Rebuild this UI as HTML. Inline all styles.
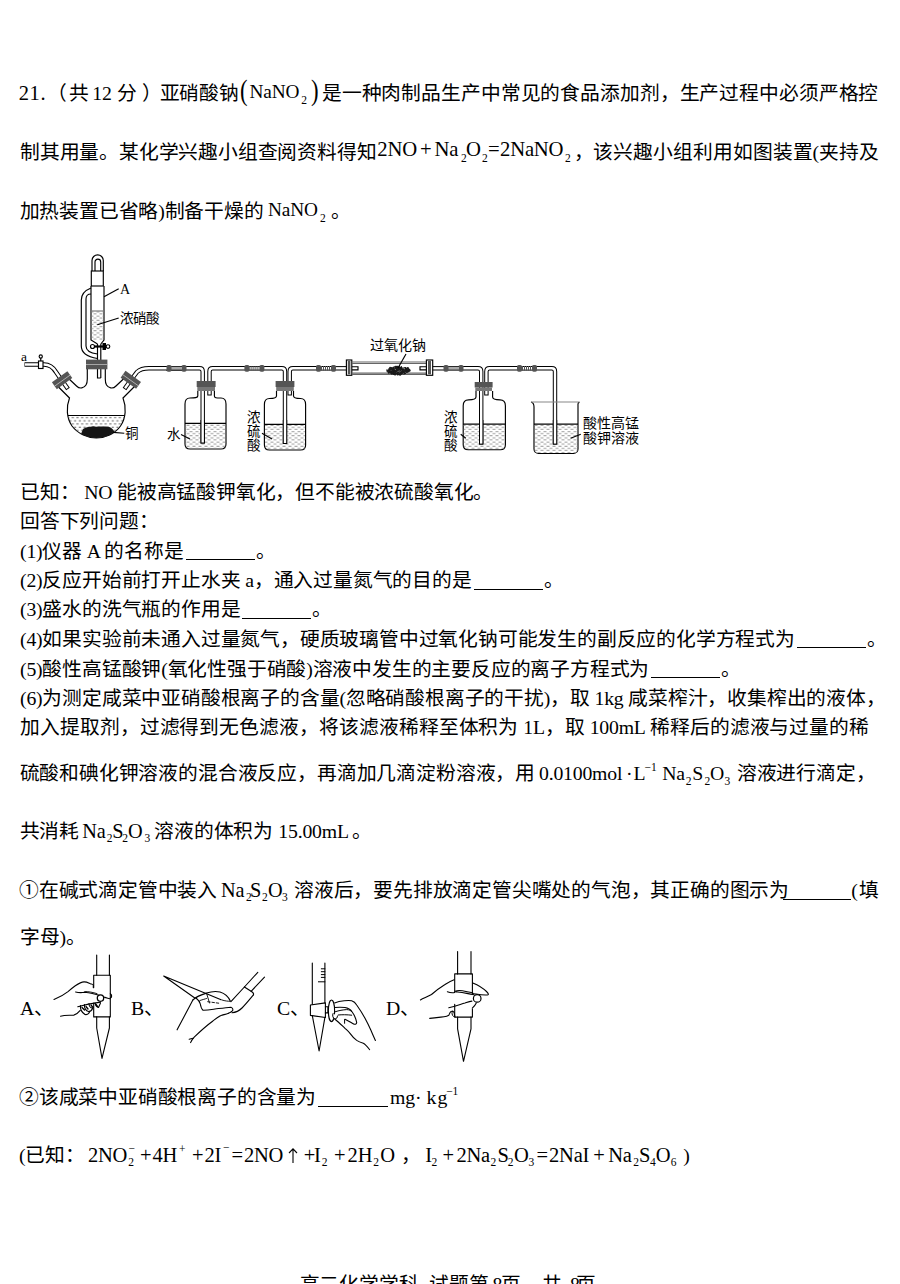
<!DOCTYPE html>
<html lang="zh-CN">
<head>
<meta charset="utf-8">
<style>
html,body{margin:0;padding:0;background:#fff;}
body{width:900px;height:1284px;overflow:hidden;position:relative;font-family:"Liberation Serif",serif;color:#000;}
.l{position:absolute;left:20px;white-space:nowrap;font-size:19.75px;line-height:20px;letter-spacing:-0.2px;}
.j{width:859px;text-align:justify;text-align-last:justify;}
.r{position:absolute;white-space:nowrap;line-height:20px;display:block;}
sub,sup{font-size:11px;line-height:0;}
sub{vertical-align:-5px;}
sup{vertical-align:8px;}
.f{font-size:20.5px;}
.op{padding:0 3px;}
.bp{display:inline-block;font-size:26px;transform:scaleX(0.85);}
.dot{padding:0 2px;}
sub.lo{vertical-align:-7px;}
sub.ss{position:relative;}
sub.ss span{position:absolute;left:0;top:-14px;}
.ar{font-family:"Liberation Serif",serif;}
.u{display:inline-block;width:69px;border-bottom:1px solid #000;height:16px;margin-left:2px;margin-right:1px;vertical-align:-2.5px;}
#fig{position:absolute;left:0;top:240px;}
#fig2{position:absolute;left:0;top:945px;}
</style>
</head>
<body>
<!--FORM-->
<div class="l" id="L1" style="top:83.3px"><span id="L1_a" class="r" style="left:-1.30px;top:-0.25px;font-size:20.50px;letter-spacing:0.6px">21.</span><span id="L1_b" class="r" style="left:27.00px;top:0.00px;font-size:19.75px">（</span><span id="L1_b2" class="r" style="left:49.00px;top:0.00px;font-size:19.75px">共</span><span id="L1_c" class="r" style="left:72.30px;top:0.00px;font-size:19.75px">12</span><span id="L1_d" class="r" style="left:97.30px;top:0.00px;font-size:19.75px">分</span><span id="L1_d2" class="r" style="left:122.30px;top:0.00px;font-size:19.75px">）</span><span id="L1_e" class="r" style="left:139.60px;top:0.00px;font-size:19.75px">亚硝酸钠</span><span id="L1_f" class="r" style="left:220.00px;top:-1.95px;font-size:28.50px;transform:scaleX(0.8);transform-origin:left">(</span><span id="L1_g" class="r" style="left:229.60px;top:-0.84px;font-size:19.30px">NaNO</span><span id="L1_h" class="r" style="left:281.20px;top:6.79px;font-size:11.50px">2</span><span id="L1_i" class="r" style="left:290.70px;top:-1.95px;font-size:28.50px;transform:scaleX(0.8);transform-origin:left">)</span><span id="L1_j" class="r" style="left:301.80px;top:0.00px;font-size:19.75px;width:556.50px;text-align:justify;text-align-last:justify">是一种肉制品生产中常见的食品添加剂，生产过程中必须严格控</span></div>
<div class="l" id="L2" style="top:142.0px"><span id="L2_a" class="r" style="left:0.10px;top:0.00px;font-size:19.75px">制其用量。某化学兴趣小组查阅资料得知</span><span id="L2_b" class="r" style="left:357.30px;top:-2.62px;font-size:20.70px">2NO</span><span id="L2_c" class="r" style="left:400.00px;top:-2.62px;font-size:20.70px">+</span><span id="L2_d" class="r" style="left:414.60px;top:-2.62px;font-size:20.70px">Na</span><span id="L2_e" class="r" style="left:441.00px;top:6.19px;font-size:11.50px">2</span><span id="L2_f" class="r" style="left:446.00px;top:-2.62px;font-size:20.70px">O</span><span id="L2_g" class="r" style="left:462.00px;top:6.19px;font-size:11.50px">2</span><span id="L2_h" class="r" style="left:468.00px;top:-2.62px;font-size:20.70px">=</span><span id="L2_i" class="r" style="left:480.00px;top:-2.62px;font-size:20.70px">2NaNO</span><span id="L2_k" class="r" style="left:545.00px;top:6.19px;font-size:11.50px">2</span><span id="L2_l" class="r" style="left:554.00px;top:0.00px;font-size:19.75px">，</span><span id="L2_m" class="r" style="left:573.30px;top:0.00px;font-size:19.75px;width:285.50px;text-align:justify;text-align-last:justify">该兴趣小组利用如图装置(夹持及</span></div>
<div class="l" id="L3" style="top:200.8px"><span id="L3_a" class="r" style="left:-0.40px;top:0.00px;font-size:19.75px">加热装置已省略)制备干燥的</span><span id="L3_b" class="r" style="left:248.10px;top:-0.34px;font-size:19.30px">NaNO</span><span id="L3_c" class="r" style="left:300.00px;top:6.89px;font-size:11.50px">2</span><span id="L3_d" class="r" style="left:311.00px;top:0.00px;font-size:19.75px">。</span></div>
<div class="l" id="L4" style="top:762.5px"><span id="L4_a" class="r" style="left:-0.50px;top:0.00px;font-size:19.75px;width:515.50px;text-align:justify;text-align-last:justify">硫酸和碘化钾溶液的混合液反应，再滴加几滴淀粉溶液，用</span><span id="L4_b" class="r" style="left:519.00px;top:0.00px;font-size:19.75px">0.0100mol</span><span id="L4_c" class="r" style="left:606.00px;top:0.00px;font-size:19.75px">·</span><span id="L4_d" class="r" style="left:613.40px;top:0.00px;font-size:19.75px">L</span><span id="L4_e" class="r" style="left:624.60px;top:-5.21px;font-size:11.50px">−1</span><span id="L4_f" class="r" style="left:642.30px;top:0.00px;font-size:19.75px">Na</span><span id="L4_g" class="r" style="left:665.70px;top:8.29px;font-size:11.50px">2</span><span id="L4_h" class="r" style="left:672.30px;top:0.00px;font-size:19.75px">S</span><span id="L4_i" class="r" style="left:684.60px;top:8.29px;font-size:11.50px">2</span><span id="L4_k" class="r" style="left:690.00px;top:0.00px;font-size:19.75px">O</span><span id="L4_l" class="r" style="left:704.60px;top:8.29px;font-size:11.50px">3</span><span id="L4_m" class="r" style="left:716.80px;top:0.00px;font-size:19.75px;width:132.00px;text-align:justify;text-align-last:justify">溶液进行滴定，</span></div>
<div class="l" id="L5" style="top:821.1px"><span id="L5_a" class="r" style="left:-0.50px;top:0.00px;font-size:19.75px">共消耗</span><span id="L5_b" class="r" style="left:62.30px;top:-0.18px;font-size:20.30px">Na</span><span id="L5_c" class="r" style="left:86.80px;top:7.19px;font-size:11.50px">2</span><span id="L5_d" class="r" style="left:92.30px;top:-0.18px;font-size:20.30px">S</span><span id="L5_e" class="r" style="left:102.30px;top:7.19px;font-size:11.50px">2</span><span id="L5_f" class="r" style="left:107.90px;top:-0.18px;font-size:20.30px">O</span><span id="L5_g" class="r" style="left:124.60px;top:7.19px;font-size:11.50px">3</span><span id="L5_h" class="r" style="left:134.30px;top:0.00px;font-size:19.75px">溶液的体积为</span><span id="L5_i" class="r" style="left:258.30px;top:0.00px;font-size:19.75px">15.00mL</span><span id="L5_k" class="r" style="left:332.40px;top:0.00px;font-size:19.75px">。</span></div>
<div class="l" id="L6" style="top:879.9px"><span id="L6_a" class="r" style="left:-1.00px;top:0.00px;font-size:19.75px">①在碱式滴定管中装入</span><span id="L6_b" class="r" style="left:201.00px;top:-0.18px;font-size:20.30px">Na</span><span id="L6_c" class="r" style="left:226.00px;top:7.19px;font-size:11.50px">2</span><span id="L6_d" class="r" style="left:230.00px;top:-0.18px;font-size:20.30px">S</span><span id="L6_e" class="r" style="left:242.00px;top:7.19px;font-size:11.50px">2</span><span id="L6_f" class="r" style="left:248.00px;top:-0.18px;font-size:20.30px">O</span><span id="L6_g" class="r" style="left:262.00px;top:7.19px;font-size:11.50px">3</span><span id="L6_h" class="r" style="left:274.00px;top:0.00px;font-size:19.75px;width:486.00px;text-align:justify;text-align-last:justify">溶液后，要先排放滴定管尖嘴处的气泡，其正确的图示为</span><span id="L6_u" class="r" style="left:763.30px;top:0.00px;font-size:19.75px;width:68.00px;height:1.00px;border-bottom:1px solid #000;top:18.17px"></span><span id="L6_k" class="r" style="left:831.20px;top:0.00px;font-size:19.75px">(</span><span id="L6_l" class="r" style="left:839.00px;top:0.00px;font-size:19.75px">填</span></div>
<div class="l" id="L7" style="top:1086.5px"><span id="L7_a" class="r" style="left:-1.00px;top:0.00px;font-size:19.75px">②该咸菜中亚硝酸根离子的含量为</span><span id="L7_u" class="r" style="left:298.20px;top:0.00px;font-size:19.75px;width:69.60px;height:1.00px;border-bottom:1px solid #000;top:18.17px"></span><span id="L7_b" class="r" style="left:370.10px;top:0.00px;font-size:19.75px">mg</span><span id="L7_c" class="r" style="left:395.00px;top:0.00px;font-size:19.75px">·</span><span id="L7_d" class="r" style="left:406.60px;top:0.00px;font-size:19.75px;letter-spacing:1px">kg</span><span id="L7_e" class="r" style="left:426.20px;top:-5.71px;font-size:11.50px">−1</span></div>
<div class="l" id="L8" style="top:1145.3px"><span id="L8_a" class="r" style="left:-1.00px;top:0.00px;font-size:19.75px">(已知：</span><span id="L8_b" class="r" style="left:67.90px;top:-0.25px;font-size:20.50px">2NO</span><span id="L8_c" class="r" style="left:108.30px;top:7.19px;font-size:11.50px">2</span><span id="L8_c2" class="r" style="left:108.50px;top:-7.71px;font-size:11.50px">−</span><span id="L8_d" class="r" style="left:120.00px;top:-0.25px;font-size:20.50px">+</span><span id="L8_e" class="r" style="left:132.40px;top:-0.25px;font-size:20.50px">4H</span><span id="L8_f" class="r" style="left:158.90px;top:-6.21px;font-size:11.50px">+</span><span id="L8_g" class="r" style="left:172.10px;top:-0.25px;font-size:20.50px">+</span><span id="L8_h" class="r" style="left:184.50px;top:-0.25px;font-size:20.50px">2I</span><span id="L8_i" class="r" style="left:202.90px;top:-8.71px;font-size:11.50px">−</span><span id="L8_k" class="r" style="left:211.40px;top:-0.25px;font-size:20.50px">=</span><span id="L8_l" class="r" style="left:223.90px;top:-0.25px;font-size:20.50px">2NO</span><span id="L8_m" class="r" style="left:268.20px;top:-0.25px;font-size:20.50px"><svg width="10" height="15" viewBox="0 0 10 15" style="display:block;margin-top:3px"><path d="M5 1V15M1 5L5 0.8L9 5" fill="none" stroke="#000" stroke-width="1.1"/></svg></span><span id="L8_n" class="r" style="left:283.80px;top:-0.25px;font-size:20.50px">+</span><span id="L8_o" class="r" style="left:293.90px;top:-0.25px;font-size:20.50px">I</span><span id="L8_p" class="r" style="left:301.80px;top:7.19px;font-size:11.50px">2</span><span id="L8_q" class="r" style="left:314.10px;top:-0.25px;font-size:20.50px">+</span><span id="L8_r" class="r" style="left:327.60px;top:-0.25px;font-size:20.50px">2H</span><span id="L8_s" class="r" style="left:353.20px;top:7.19px;font-size:11.50px">2</span><span id="L8_t" class="r" style="left:360.20px;top:-0.25px;font-size:20.50px">O</span><span id="L8_v" class="r" style="left:381.00px;top:0.00px;font-size:19.75px">，</span><span id="L8_w" class="r" style="left:405.30px;top:-0.25px;font-size:20.50px">I</span><span id="L8_x" class="r" style="left:411.60px;top:7.19px;font-size:11.50px">2</span><span id="L8_y" class="r" style="left:422.40px;top:-0.25px;font-size:20.50px">+</span><span id="L8_z" class="r" style="left:436.40px;top:-0.25px;font-size:20.50px">2Na</span><span id="L8_A" class="r" style="left:470.50px;top:7.19px;font-size:11.50px">2</span><span id="L8_B" class="r" style="left:477.50px;top:-0.25px;font-size:20.50px">S</span><span id="L8_C" class="r" style="left:487.80px;top:7.19px;font-size:11.50px">2</span><span id="L8_D" class="r" style="left:493.90px;top:-0.25px;font-size:20.50px">O</span><span id="L8_E" class="r" style="left:508.60px;top:7.19px;font-size:11.50px">3</span><span id="L8_F" class="r" style="left:516.40px;top:-0.25px;font-size:20.50px">=</span><span id="L8_G" class="r" style="left:529.00px;top:-0.25px;font-size:20.50px">2NaI</span><span id="L8_H" class="r" style="left:573.20px;top:-0.25px;font-size:20.50px">+</span><span id="L8_I" class="r" style="left:588.20px;top:-0.25px;font-size:20.50px">Na</span><span id="L8_K" class="r" style="left:613.20px;top:7.19px;font-size:11.50px">2</span><span id="L8_L" class="r" style="left:619.00px;top:-0.25px;font-size:20.50px">S</span><span id="L8_M" class="r" style="left:630.00px;top:7.19px;font-size:11.50px">4</span><span id="L8_N" class="r" style="left:635.70px;top:-0.25px;font-size:20.50px">O</span><span id="L8_O" class="r" style="left:650.70px;top:7.19px;font-size:11.50px">6</span><span id="L8_P" class="r" style="left:663.20px;top:0.00px;font-size:19.75px">)</span></div>
<div class="l" id="L9" style="top:1273.8px"><span id="L9_a" class="r" style="left:279.70px;top:0.00px;font-size:19.75px">高二化学学科</span><span id="L9_b" class="r" style="left:409.40px;top:0.00px;font-size:19.75px">试题第</span><span id="L9_c" class="r" style="left:472.40px;top:0.00px;font-size:19.75px">8</span><span id="L9_d" class="r" style="left:480.60px;top:0.00px;font-size:19.75px">页，</span><span id="L9_e" class="r" style="left:522.00px;top:0.00px;font-size:19.75px">共</span><span id="L9_f" class="r" style="left:550.00px;top:0.00px;font-size:19.75px">8</span><span id="L9_g" class="r" style="left:555.50px;top:0.00px;font-size:19.75px">页</span></div>
<!--/FORM-->

<div class="l" style="top:482.0px">已知： NO 能被高锰酸钾氧化，但不能被浓硫酸氧化。</div>
<div class="l" style="top:511.0px">回答下列问题：</div>
<div class="l" style="top:540.6px">(1)仪器 A 的名称是<span class="u"></span>。</div>
<div class="l" style="top:570.3px">(2)反应开始前打开止水夹 a，通入过量氮气的目的是<span class="u"></span>。</div>
<div class="l" style="top:599.1px">(3)盛水的洗气瓶的作用是<span class="u"></span>。</div>
<div class="l" style="top:628.8px">(4)如果实验前未通入过量氮气，硬质玻璃管中过氧化钠可能发生的副反应的化学方程式为<span class="u"></span>。</div>
<div class="l" style="top:658.6px">(5)酸性高锰酸钾(氧化性强于硝酸)溶液中发生的主要反应的离子方程式为<span class="u"></span>。</div>
<div class="l j" style="top:687.8px">(6)为测定咸菜中亚硝酸根离子的含量(忽略硝酸根离子的干扰)，取 1kg 咸菜榨汁，收集榨出的液体，</div>
<div class="l j" style="top:717.1px;width:849px">加入提取剂，过滤得到无色滤液，将该滤液稀释至体积为 1L，取 100mL 稀释后的滤液与过量的稀</div>
<div class="l" style="top:926.6px">字母)。</div>
<div class="l" style="top:998.3px;left:20px">A、</div>
<div class="l" style="top:998.3px;left:131px">B、</div>
<div class="l" style="top:998.3px;left:277px">C、</div>
<div class="l" style="top:998.3px;left:386px">D、</div>

<svg id="fig" width="900" height="480" viewBox="0 0 900 480" style="position:absolute;left:0;top:0" fill="none" stroke="#000" stroke-width="1.15">
<defs>
<pattern id="liq" width="6" height="4.2" patternUnits="userSpaceOnUse">
<path d="M0.5 1h3M3.5 3.1h3M-2.5 3.1h3" stroke="#8a8a8a" stroke-width="0.85"/>
</pattern>
<pattern id="liq2" width="4.7" height="6.4" patternUnits="userSpaceOnUse"><path d="M1.2 1.6h2.2M3.55 4.8h2.2M-1.15 4.8h2.2" stroke="#555" stroke-width="1"/></pattern>
<g id="conn">
<path d="M4 0H16" stroke="#000" stroke-width="4.6"/>
<path d="M4 0H16" stroke="#fff" stroke-width="2.6"/>
<path d="M5 0H15" stroke="#555" stroke-width="4.4" stroke-dasharray="1 1"/>
<rect x="0" y="-3.4" width="5" height="6.8" rx="1.6" fill="#555" stroke="none"/>
<rect x="15" y="-3.4" width="5" height="6.8" rx="1.6" fill="#555" stroke="none"/>
</g>
</defs>
<!-- ===== dropping funnel ===== -->
<path d="M92 271V260.5a5.65 5.65 0 0 1 11.3 0V271" />
<path d="M95 271V262a2.85 2.85 0 0 1 5.7 0V271" />
<rect x="91.3" y="271" width="12" height="15" />
<path d="M91 286 V340 L97.5 344 M104 286 V340 L100.8 344" />
<path d="M91 288 C86 290 81.3 293 81.3 300 V346 C81.3 353 88 357 97.5 358.5" />
<path d="M91 294 C88 294 86 296 86 299 V346 C86 350 90 353 97.5 354" />
<rect x="91.6" y="311" width="11.8" height="29" fill="url(#liq)" stroke="none"/>
<path d="M91 311 H104" stroke="#777"/>
<path d="M94 346.5 H106" stroke-width="2.2"/>
<circle cx="92.5" cy="346.5" r="2" fill="#fff"/>
<rect x="102.5" y="343" width="3.5" height="7" fill="#000" stroke="none"/>
<circle cx="108" cy="346.5" r="1.8" fill="#fff"/>
<path d="M97.5 344 V360 M100.8 344 V378 M97.5 360 V378 H100.8" />
<path d="M104 296.7 L118.7 288.7" />
<path d="M97.3 324.7 L118.7 318" />
<!-- ===== three-neck flask ===== -->
<!-- outline: left neck outer -> bulb -> right neck outer -->
<path d="M56.5 385 L69.5 398 C66 407 66.5 418 72 426 C78 434 88 438 96.3 438 C105 438 115 434 120.5 426 C126 418 126.5 407 123 398 L136 385" />
<!-- inner walls: left neck inner -> shoulder -> center neck -->
<path d="M67 377 L76.5 386 C80 389.5 84 388 86 385 C87 383.5 87.3 381 87.3 379 V369" />
<path d="M125.5 377 L116 386 C112.5 389.5 108.5 388 106.5 385 C105.5 383.5 105.3 381 105.3 379 V369" />
<clipPath id="bulbc"><path d="M69.5 398 C66 407 66.5 418 72 426 C78 434 88 438 96.3 438 C105 438 115 434 120.5 426 C126 418 126.5 407 123 398Z"/></clipPath>
<rect x="66" y="416" width="62" height="24" fill="url(#liq2)" stroke="none" clip-path="url(#bulbc)"/>
<path d="M68 415.5 H124.5" />
<path d="M81 434 L83 429 C86 426.8 90 427.2 93 426.3 C97 427.2 100 425.9 104 426.6 C108 426.1 111 427 113 429.5 L116 434 L116 441 L81 441 Z" fill="#151515" stroke="none" clip-path="url(#bulbc)"/>

<path d="M113 432.4 L124.3 433.3" />
<rect x="86" y="359.6" width="21.4" height="9.7" fill="#555" stroke="none"/>
<path d="M86 364.5 H107.4" stroke="#bbb" stroke-width="0.8"/>
<!-- side tubes (black+white stroke trick) -->
<path d="M61.5 380 L56 372 Q51.5 364.5 44 364.5 H24.5" stroke="#000" stroke-width="4.4"/>
<path d="M61.5 380 L56 372 Q51.5 364.5 44 364.5 H25" stroke="#fff" stroke-width="2.4"/>
<path d="M62 380.5 L68 389" stroke="#000" stroke-width="4.4"/>
<path d="M62 380.5 L67.5 388.2" stroke="#fff" stroke-width="2.4"/>
<path d="M131 380 L137 372 Q141 368.3 149 368.3 H168" stroke="#000" stroke-width="4.4"/>
<path d="M131 380 L137 372 Q141 368.3 149 368.3 H168" stroke="#fff" stroke-width="2.4"/>
<path d="M130.5 380.5 L124.5 389" stroke="#000" stroke-width="4.4"/>
<path d="M130.5 380.5 L125 388.2" stroke="#fff" stroke-width="2.4"/>
<g transform="translate(62.1 380.2) rotate(-35.5)">
<rect x="-9.5" y="-4.2" width="19" height="8.4" fill="#555" stroke="none"/>
<path d="M-9.5 0.5 H9.5" stroke="#bbb" stroke-width="0.8"/>
</g>
<g transform="translate(130.8 379.8) rotate(35.5)">
<rect x="-9.5" y="-4.2" width="19" height="8.4" fill="#555" stroke="none"/>
<path d="M-9.5 0.5 H9.5" stroke="#bbb" stroke-width="0.8"/>
</g>
<rect x="38.5" y="361" width="4.5" height="7.5" fill="#fff" />
<path d="M40.75 361 V358" stroke-width="1.2"/>
<circle cx="40.75" cy="356.5" r="1.6" fill="#fff"/>
<!-- tubes between bottles -->
<g stroke="#000" stroke-width="4.4"><path d="M166 368.3 H199.5 Q202.7 368.3 202.7 371.5 V443.5" /><path d="M209.5 395.6 V371.5 Q209.5 368.3 212.7 368.3 H245" /><path d="M264 368.3 H281.8 Q285 368.3 285 371.5 V444" /><path d="M289.7 395.6 V371.5 Q289.7 368.3 292.9 368.3 H317" /><path d="M335 368.3 H347" /><path d="M432 368.3 H444" /><path d="M463 368.3 H478 Q481.2 368.3 481.2 371.5 V444.6" /><path d="M486.4 395.6 V371.5 Q486.4 368.3 489.6 368.3 H518" /><path d="M536 368.3 H551.8 Q555 368.3 555 371.5 V444.6" /></g>
<g stroke="#fff" stroke-width="2.4"><path d="M166 368.3 H199.5 Q202.7 368.3 202.7 371.5 V442.5" /><path d="M209.5 394.6 V371.5 Q209.5 368.3 212.7 368.3 H245" /><path d="M264 368.3 H281.8 Q285 368.3 285 371.5 V443" /><path d="M289.7 394.6 V371.5 Q289.7 368.3 292.9 368.3 H317" /><path d="M335 368.3 H347" /><path d="M432 368.3 H444" /><path d="M463 368.3 H478 Q481.2 368.3 481.2 371.5 V443.6" /><path d="M486.4 394.6 V371.5 Q486.4 368.3 489.6 368.3 H518" /><path d="M536 368.3 H551.8 Q555 368.3 555 371.5 V443.6" /></g>
<use href="#conn" x="166.5" y="368.3" />
<use href="#conn" x="244.4" y="368.3" />
<use href="#conn" x="316" y="368.3" />
<use href="#conn" x="443.5" y="368.3" />
<use href="#conn" x="517" y="368.3" />
<!-- bottle 1 -->
<path d="M197.8 391 V396 C197.8 398 195 398 190 398 C186.5 398 185 400 185 404 V444 C185 447 187 449 190 449 H221 C224 449 226 447 226 444 V404 C226 400 224.5 398 221 398 C216 398 214.4 398 214.4 396 V391" />
<rect x="185.5" y="424" width="40" height="24.5" fill="url(#liq)" stroke="none"/>
<path d="M185 423.3 H226" />
<rect x="196.7" y="381" width="18.9" height="6" fill="#555" stroke="none"/>
<rect x="197.3" y="387" width="17.7" height="4" fill="#777" stroke="none"/>
<!-- bottle 2 -->
<path d="M276.5 391 V396 C276.5 398 274 398.5 269.5 398.5 C266 398.5 264.4 400.5 264.4 404.5 V445 C264.4 448 266.4 450 269.4 450 H300.6 C303.6 450 305.6 448 305.6 445 V404.5 C305.6 400.5 304 398.5 300.5 398.5 C296 398.5 293.5 398 293.5 396 V391" />
<rect x="264.9" y="425" width="40" height="24.5" fill="url(#liq)" stroke="none"/>
<path d="M264.4 424.4 H305.6" />
<rect x="275.6" y="381" width="18.8" height="6" fill="#555" stroke="none"/>
<rect x="276.2" y="387" width="17.6" height="4" fill="#777" stroke="none"/>
<!-- hard glass tube -->
<rect x="346.4" y="360" width="5.4" height="15.3" fill="#fff"/>
<path d="M351.8 362 H426.4 M351.8 363.5 H426.4 M351.8 373 H426.4 M351.8 374.4 H426.4" stroke="#666"/>
<rect x="426.4" y="360" width="6.3" height="15.3" fill="#fff"/>
<rect x="347.8" y="361" width="2.6" height="13.3" fill="#555" stroke="none"/>
<rect x="428" y="361" width="3" height="13.3" fill="#555" stroke="none"/>
<path d="M352 366.7 H358 V369.8 H352" />
<path d="M426.4 366.7 H420 V369.8 H426.4" />
<g fill="#1a1a1a" stroke="none"><circle cx="401.6" cy="372.5" r="1.08"/><circle cx="397.6" cy="374.5" r="0.99"/><circle cx="397.7" cy="367.8" r="0.93"/><circle cx="391.4" cy="368.2" r="1.15"/><circle cx="401.4" cy="366.7" r="0.60"/><circle cx="407.8" cy="368.2" r="1.18"/><circle cx="399.5" cy="371.9" r="0.72"/><circle cx="393.5" cy="368.9" r="0.70"/><circle cx="393.5" cy="371.2" r="0.60"/><circle cx="402.9" cy="368.7" r="0.79"/><circle cx="406.5" cy="370.1" r="0.79"/><circle cx="398.0" cy="372.2" r="0.63"/><circle cx="404.7" cy="373.5" r="0.61"/><circle cx="405.7" cy="369.0" r="0.95"/><circle cx="390.9" cy="372.7" r="1.16"/><circle cx="394.9" cy="370.5" r="1.07"/><circle cx="388.7" cy="372.6" r="1.08"/><circle cx="394.5" cy="371.3" r="1.15"/><circle cx="394.5" cy="374.3" r="0.93"/><circle cx="393.8" cy="368.5" r="0.71"/><circle cx="396.1" cy="367.8" r="0.96"/><circle cx="406.7" cy="369.8" r="0.85"/><circle cx="401.8" cy="373.0" r="0.66"/><circle cx="396.9" cy="366.9" r="1.11"/><circle cx="393.4" cy="369.8" r="1.20"/><circle cx="397.3" cy="370.1" r="1.04"/><circle cx="398.0" cy="368.3" r="0.84"/><circle cx="389.7" cy="369.1" r="1.19"/><circle cx="398.5" cy="368.7" r="0.65"/><circle cx="392.8" cy="372.9" r="1.12"/><circle cx="395.0" cy="373.0" r="1.06"/><circle cx="403.4" cy="371.8" r="1.06"/><circle cx="395.1" cy="372.2" r="0.77"/><circle cx="398.1" cy="372.8" r="1.01"/><circle cx="402.2" cy="371.0" r="0.61"/><circle cx="399.7" cy="367.9" r="1.00"/><circle cx="397.6" cy="373.3" r="0.99"/><circle cx="405.9" cy="368.8" r="0.99"/><circle cx="404.4" cy="373.4" r="0.81"/><circle cx="399.2" cy="367.1" r="1.10"/><circle cx="409.4" cy="370.0" r="1.01"/><circle cx="404.0" cy="372.4" r="0.70"/><circle cx="405.5" cy="371.0" r="1.00"/><circle cx="396.5" cy="371.4" r="1.06"/><circle cx="401.9" cy="372.3" r="0.62"/><circle cx="390.0" cy="369.7" r="0.99"/><circle cx="391.5" cy="372.0" r="0.98"/><circle cx="387.0" cy="370.0" r="0.74"/><circle cx="393.9" cy="367.2" r="0.72"/><circle cx="395.5" cy="371.3" r="0.95"/><circle cx="391.9" cy="374.1" r="0.60"/><circle cx="396.1" cy="368.1" r="0.85"/><circle cx="399.6" cy="368.7" r="0.95"/><circle cx="396.5" cy="373.2" r="0.99"/><circle cx="395.2" cy="366.9" r="0.96"/><circle cx="400.1" cy="374.6" r="1.18"/><circle cx="401.2" cy="368.8" r="1.14"/><circle cx="400.1" cy="371.3" r="0.68"/><circle cx="401.7" cy="374.0" r="0.83"/><circle cx="396.8" cy="367.7" r="0.77"/><circle cx="400.9" cy="368.0" r="1.19"/><circle cx="398.4" cy="369.4" r="0.79"/><circle cx="393.2" cy="370.0" r="0.67"/><circle cx="401.5" cy="369.7" r="0.78"/><circle cx="405.5" cy="373.4" r="0.61"/><circle cx="399.3" cy="368.1" r="1.16"/><circle cx="405.5" cy="367.8" r="0.76"/><circle cx="393.3" cy="371.3" r="0.88"/><circle cx="402.1" cy="371.2" r="1.05"/><circle cx="389.0" cy="372.7" r="0.78"/><circle cx="399.3" cy="368.7" r="0.78"/><circle cx="399.2" cy="369.9" r="0.82"/><circle cx="404.6" cy="371.1" r="0.62"/><circle cx="392.3" cy="369.8" r="1.15"/><circle cx="408.2" cy="370.7" r="0.61"/><circle cx="405.5" cy="369.6" r="0.95"/><circle cx="403.7" cy="371.5" r="0.89"/><circle cx="408.8" cy="369.2" r="0.84"/><circle cx="393.4" cy="373.4" r="0.64"/><circle cx="406.9" cy="372.1" r="0.86"/><circle cx="393.2" cy="372.9" r="1.15"/><circle cx="389.6" cy="370.0" r="0.93"/><circle cx="398.4" cy="368.6" r="0.69"/><circle cx="400.6" cy="373.2" r="0.64"/><circle cx="391.8" cy="373.3" r="1.08"/><circle cx="391.5" cy="371.6" r="1.17"/><circle cx="393.3" cy="374.2" r="0.69"/><circle cx="401.3" cy="369.4" r="0.70"/><circle cx="388.7" cy="369.1" r="0.64"/><circle cx="387.4" cy="371.0" r="1.05"/><circle cx="396.8" cy="368.5" r="0.96"/><circle cx="398.2" cy="374.4" r="0.82"/><circle cx="389.8" cy="371.5" r="0.90"/><circle cx="408.8" cy="370.8" r="0.97"/><circle cx="392.6" cy="370.7" r="0.75"/><circle cx="404.8" cy="370.4" r="0.68"/><circle cx="391.9" cy="369.0" r="1.04"/><circle cx="390.5" cy="372.3" r="0.99"/><circle cx="388.1" cy="371.8" r="0.65"/><circle cx="389.1" cy="371.1" r="0.74"/><circle cx="407.9" cy="370.1" r="0.79"/><circle cx="403.0" cy="367.6" r="0.67"/><circle cx="401.6" cy="368.9" r="0.74"/><circle cx="394.3" cy="371.3" r="0.81"/><circle cx="395.6" cy="366.8" r="1.10"/><circle cx="402.2" cy="373.1" r="0.86"/><circle cx="407.3" cy="370.4" r="0.96"/><circle cx="400.3" cy="372.5" r="0.84"/><circle cx="408.2" cy="370.1" r="1.06"/><circle cx="408.2" cy="371.4" r="0.86"/><circle cx="397.6" cy="366.4" r="0.69"/><circle cx="390.0" cy="369.1" r="0.83"/><circle cx="392.4" cy="368.1" r="0.70"/><circle cx="393.2" cy="367.7" r="0.89"/><circle cx="395.2" cy="374.4" r="1.01"/><circle cx="402.8" cy="370.0" r="1.17"/><circle cx="388.9" cy="371.9" r="0.77"/><circle cx="402.9" cy="372.4" r="0.70"/><circle cx="395.1" cy="368.5" r="0.88"/><circle cx="393.1" cy="372.5" r="1.03"/><circle cx="390.1" cy="367.8" r="1.00"/><circle cx="405.5" cy="369.4" r="0.63"/><circle cx="399.0" cy="368.8" r="0.66"/><circle cx="398.3" cy="374.4" r="0.63"/><circle cx="392.4" cy="369.4" r="0.78"/><circle cx="398.7" cy="369.3" r="0.92"/><circle cx="388.7" cy="370.6" r="1.15"/><circle cx="401.0" cy="373.6" r="0.73"/><circle cx="398.2" cy="370.9" r="0.83"/><circle cx="401.6" cy="372.4" r="1.15"/><circle cx="393.7" cy="369.8" r="1.10"/><circle cx="405.3" cy="373.3" r="0.79"/><circle cx="396.7" cy="371.0" r="0.75"/><circle cx="393.2" cy="369.1" r="0.66"/><circle cx="396.5" cy="368.5" r="1.05"/><circle cx="399.9" cy="374.0" r="0.99"/><circle cx="405.0" cy="371.0" r="0.87"/><circle cx="406.4" cy="371.7" r="1.17"/><circle cx="404.2" cy="372.2" r="0.76"/><circle cx="406.3" cy="369.1" r="0.68"/><circle cx="392.6" cy="371.9" r="0.77"/><circle cx="394.9" cy="373.7" r="1.17"/><circle cx="401.3" cy="367.7" r="0.86"/><circle cx="395.1" cy="368.6" r="0.61"/><circle cx="400.6" cy="373.4" r="1.04"/><circle cx="388.4" cy="370.5" r="0.70"/><circle cx="403.7" cy="369.7" r="1.16"/><circle cx="393.9" cy="374.2" r="0.88"/><circle cx="396.9" cy="369.7" r="1.06"/><circle cx="409.4" cy="370.6" r="1.18"/><circle cx="406.4" cy="369.5" r="0.63"/><circle cx="400.4" cy="370.1" r="1.13"/><circle cx="395.8" cy="367.5" r="0.77"/><circle cx="391.0" cy="370.8" r="0.81"/><circle cx="404.8" cy="367.8" r="0.81"/><circle cx="401.5" cy="369.3" r="0.69"/><circle cx="406.8" cy="370.2" r="0.62"/><circle cx="403.9" cy="374.1" r="0.72"/><circle cx="405.9" cy="368.6" r="1.01"/><circle cx="407.6" cy="371.4" r="1.08"/></g>

<path d="M398 368 L406 354" />
<!-- bottle 3 -->
<path d="M476 391 V397 C476 399.5 473 399.8 468.5 399.8 C465 399.8 463.2 401.8 463.2 405.8 V444.7 C463.2 447.7 465.2 449.7 468.2 449.7 H500.4 C503.4 449.7 505.4 447.7 505.4 444.7 V405.8 C505.4 401.8 503.5 399.8 500 399.8 C495.5 399.8 492.6 399.5 492.6 397 V391" />
<rect x="463.7" y="424.6" width="41.2" height="24.6" fill="url(#liq)" stroke="none"/>
<path d="M463.2 424.1 H505.4" />
<rect x="474.7" y="382" width="17.9" height="5.5" fill="#555" stroke="none"/>
<rect x="475.3" y="387.5" width="16.7" height="3.5" fill="#777" stroke="none"/>
<!-- beaker -->
<path d="M531 402 C533 402.5 534 404 534 407 V449 C534 451.5 536 453.5 538.5 453.5 H573.5 C576 453.5 578 451.5 578 449 V404 C578 403 578.5 402.4 579.5 402.4" />
<path d="M531 402 H579.5" stroke="#888"/>
<rect x="534.5" y="424.6" width="43" height="28.4" fill="url(#liq)" stroke="none"/>
<path d="M534 424.1 H578" />
<!-- re-draw tubes inside liquid on top -->
<g stroke="#000" stroke-width="4.4"><path d="M202.7 420 V443.5"/><path d="M285 420 V444"/><path d="M481.2 420 V444.6"/><path d="M555 420 V444.6"/></g>
<g stroke="#fff" stroke-width="2.4"><path d="M202.7 420 V442.5"/><path d="M285 420 V443"/><path d="M481.2 420 V443.6"/><path d="M555 420 V443.6"/></g>
<!-- leaders -->
<path d="M181 434.4 L190 438.9" />
<path d="M262 433.3 L272 439" />
<path d="M460.7 434.3 L465.8 438.2" />
<path d="M580.8 434.3 L570.6 438.2" />
<g fill="#000" stroke="none" font-family="Liberation Serif, serif" font-size="13.5">
<text x="120" y="294" font-size="14">A</text>
<text x="120" y="323">浓硝酸</text>
<text x="21" y="360.5" font-size="13.5">a</text>
<text x="125" y="437.5">铜</text>
<text x="167" y="439">水</text>
<text x="246.5" y="422">浓</text>
<text x="246.5" y="436">硫</text>
<text x="246.5" y="450">酸</text>
<text x="444" y="422">浓</text>
<text x="444" y="436">硫</text>
<text x="444" y="450">酸</text>
<text x="370" y="350.2" font-size="14">过氧化钠</text>
<text x="583" y="428" font-size="14">酸性高锰</text>
<text x="583" y="443" font-size="14">酸钾溶液</text>
</g>
</svg>
<svg id="fig2" width="900" height="130" viewBox="0 945 900 130" style="position:absolute;left:0;top:945px" fill="none" stroke="#000" stroke-width="1.1" stroke-linecap="round" stroke-linejoin="round">
<!-- A -->
<path d="M96.7 955 V975.3 M109.4 955 V975.3" />
<path d="M93.7 987.6 V975.3 H110.3 V1016.9 H93.7 V1003" />
<path d="M96.7 1016.9 V1028 L102 1058.4 L109.4 1028 V1016.9" />
<path d="M54 999.5 C60 997 65 994 68 991.6 C71 989 73 987.5 75.3 985.8 C78 984 81 982 84 981.9 C87 981.8 89 983.2 90.4 983.7 C92 984.2 93.3 984.4 93.3 985 V987.6" />
<path d="M75.6 992 C78 992.6 81 992.8 84.7 992.3 C88 992.4 92 993.5 96.2 994.5 C100 995.5 103 996.8 104.9 997.4 C107 998 108.5 998.8 109.9 998.8" />
<path d="M84.7 991.6 C88 991.2 93 992.5 97 993.6" stroke-width="0.9"/>
<path d="M110.3 993.8 C112 994.5 112.2 997.5 110.3 998.1" />
<circle cx="100.5" cy="998.1" r="3.2" fill="#fff" stroke-width="1.3"/>
<path d="M77.8 1006.8 C85 1004.5 93 1003 100.5 1002.1" />
<path d="M60.5 1016.2 C65 1015 70 1015.5 73.8 1015.1 C77 1014.5 79 1012 80.3 1010.4" />
<path d="M80.5 1005.5 C80 1009 82 1012.5 85 1014.5 C87 1015 89 1013.5 89.5 1012 M84.5 1004.5 C84 1008 86 1011 88.5 1011.5 C90.5 1011.5 92 1010 92.5 1008.5 M89 1003.5 C89 1006 90.5 1008 92.5 1008 M95 1003 C95.5 1005 96.5 1007 98.5 1007.5 L100.5 1003" stroke-width="1.1"/>
<path d="M82 1007.5 L84.5 1010 M86 1006.5 L88 1009 M91 1005 L93 1007.5 M96 1004.5 L97.5 1006.5" stroke-width="1.3"/>
<!-- B -->
<path d="M163.7 976 L221.1 999.8 M163.7 976 L194.8 998" />
<path d="M257.8 972.3 L244.4 987 M264.5 977.2 L251.1 991.3" />
<path d="M244.4 987 L251.1 991.3 C253 992.3 254 993.3 253.5 994.8" />
<path d="M244.4 987 L230.9 1001.7" />
<path d="M253.5 994.8 C250 999 246 1004 242 1008 C239 1011 235 1012.5 232 1012.7" />
<path d="M193 999.8 C196 997 200 995 206.5 993.1 C211 991.5 216 991 220 992 C225 993.5 228.5 997 230.3 1001" />
<path d="M193 999.8 L177.1 1029.8" />
<path d="M196 998 C198.5 1000 200 1002 200.3 1004 C200.8 1007 201.5 1009 203 1010.2 C207 1010.3 211 1009.6 215 1009 C220 1008.4 226 1007.6 230.9 1007.2 C233 1008 233.5 1010 232.1 1011.2 C231 1012.5 229.5 1013 228.5 1013.3" />
<path d="M200 1000.5 C203 999.5 205 999 206.5 998.5 M206.5 993.1 L209.5 1003" stroke-width="0.9"/>
<path d="M207.7 1001.7 L219.5 1003.3" stroke-dasharray="2.5 1.8" stroke-width="0.9"/>
<path d="M222 1000 C225 1001 228 1001.3 230.3 1001.3" stroke-width="0.9"/>
<path d="M228.5 1013.3 C226 1014.2 224 1014.6 222.3 1015.1 C218 1016.5 215.5 1019 212.6 1021.2 C206 1026 200 1031.5 194.2 1037.1 C192.5 1039 191.5 1040.5 190.6 1042.6" />
<path d="M189.2 1039.3 L193 1038.3" />
<!-- C -->
<path d="M312.3 963 V1004.8 M324.9 963 V1003" />
<path d="M321.3 968.8 H324.9 M321.3 971.7 H324.9 M321.3 974.6 H324.9 M321.3 977.4 H324.9 M318.4 981.8 H324.9" stroke-width="1"/>
<path d="M310.4 1005 L325.4 1002.9 V1017.5 L310.4 1015.4 Z" fill="#fff"/>
<path d="M325.4 1006.7 H327.9 V1012.9 H325.4" />
<path d="M312.3 1015.6 L319.1 1051 L324.9 1017.4" />
<ellipse cx="331.5" cy="1010.8" rx="3.1" ry="10.8" fill="#fff"/>
<path d="M334.6 1002.9 C337 1002 340.5 1001.2 344.2 1000.8 C347 1000.5 350 1000.4 351.7 1000.8 C354 1001.5 355.5 1003 356.7 1005 C359.5 1009 362.5 1013.5 365 1018.3 C367 1022 369 1026 370.8 1030 C372.5 1034 374 1037.5 375.4 1040.4" />
<path d="M334.6 1007.5 C338 1007.2 342 1007.2 345 1007.5 C348 1008 350.5 1009.5 351.7 1011.3 C354 1014.5 356 1018.5 356.7 1022.5 C356.5 1024 355.5 1024.5 354.2 1024.2 C351 1022.5 348 1020.5 345 1019.2" />
<path d="M335.4 1011.7 C339 1010.5 343 1009.8 346.7 1009.6 C349 1009.6 350.5 1010.5 351.7 1011.5 M338.3 1015 C342 1014.6 347 1014.6 351.7 1015.2" stroke-width="1"/>
<path d="M344.6 1019.5 V1023.3" stroke-width="1"/>
<path d="M333 1013.5 C332 1015.5 333 1018.5 335 1019 C336.5 1019 337.5 1017.5 337.5 1016" fill="#fff" stroke-width="1"/>
<path d="M335 1019.2 C338.5 1022 342 1025.5 345 1028.3 C346.8 1030 348.5 1031.5 350 1033.3 C352 1036 354 1038.5 356.7 1040.4 C359 1041.8 361 1042.5 363.3 1043.3 C365.5 1044.5 367.5 1047 369.6 1049.6" />
<!-- D -->
<path d="M457.6 951.5 V973.9 M471 951.5 V973.9" />
<path d="M454.7 992.5 V973.9 H472.4 V992.5 M472.4 1009 V1017.1 H454.7 V1004.2" />
<path d="M457.6 1017.1 V1028.8 L463.5 1061.3 L471 1028.8 V1017.1" />
<path d="M420.4 999.9 C424 998 428 996.5 431.5 994.5 C436 990.5 441 987 445 984.5 C448 982.5 451 981 454.1 979.8" />
<path d="M447.4 991.8 C449.5 992.6 452 993.2 454.7 992.5" />
<path d="M455 991.3 C458 990 462 990.5 466 991.5 C469 992.2 471 992.5 473 993.2 M456 992 C460 991.6 464 992.6 468 993.6 C470 994.2 472 994.5 474 994.8" />
<path d="M472.8 982.9 C478 985 483 988 486.5 991.5 C488.5 993.5 489 995 487.5 995 C484 995.2 480 994.8 476 994 C474.5 993.8 473 993.6 472.4 993.4" />
<circle cx="477.2" cy="998.4" r="3.8" fill="#fff" stroke-width="1.2"/>
<path d="M448.8 1007.8 C455 1006.5 460 1004.5 465 1003 C468 1002 470 1001.3 471.9 1001.1" />
<path d="M472.3 1008.2 C474 1006.5 475.5 1004.5 476.3 1002.9" />
<path d="M429.7 1018.4 C435 1017.5 440 1017.2 444 1016.8 C447 1016.5 448.8 1015.3 448.8 1015.3 C449.5 1013.5 450 1012 451 1011.5 C452.5 1011 453.5 1011.5 454.1 1012.5 C454.5 1014 454.5 1016 455 1017.1" />
<path d="M452.5 1011 C451.5 1013 451.8 1015 453.5 1016.5" stroke-width="1"/>
</svg>
</body>
</html>
